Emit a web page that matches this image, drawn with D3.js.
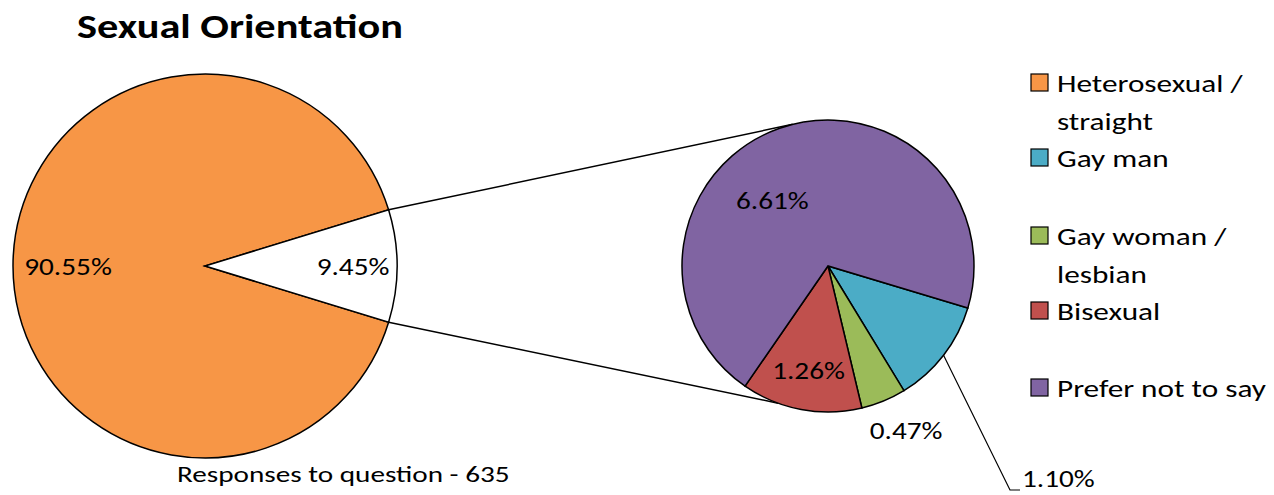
<!DOCTYPE html>
<html>
<head>
<meta charset="utf-8">
<script src="https://cdn.jsdelivr.net/npm/d3@7"></script>
<style>
  body { margin: 0; background: #fff; }
  svg text { font-family: Carlito, Lato, sans-serif; fill: #000; }
</style>
</head>
<body>
<div id="chart"></div>
<script>
// main pie
let mainLabels = ['Heterosexual / straight', 'Other'];
let mainValues = [90.55, 9.45];
// second pie (split of "Other")
let subLabels = ['Gay man', 'Gay woman / lesbian', 'Bisexual', 'Prefer not to say'];
let subValues = [1.10, 0.47, 1.26, 6.61];
let legendLabels = [['Heterosexual /', 'straight'], ['Gay man'], ['Gay woman /', 'lesbian'], ['Bisexual'], ['Prefer not to say']];
let colors = ['#F79646', '#4BACC6', '#9BBB59', '#C0504D', '#8064A2'];

let width = 1274, height = 495;
let deg = Math.PI / 180;

let svg = d3.select('#chart').append('svg').attr('width', width).attr('height', height);

// text is drawn a bit wider than the font to look like the original
function addText(parent, x, y, str, size, sx, anchor, bold) {
    return parent.append('text')
        .attr('transform', 'translate(' + [x, y] + ') scale(' + sx + ',1)')
        .attr('text-anchor', anchor || 'start')
        .style('font-size', size + 'px')
        .style('font-weight', bold ? 'bold' : 'normal')
        .text(str);
}

// title
addText(svg, 77, 38, 'Sexual Orientation', 35, 1.21, 'start', true);

// main pie, small slice centred on the right
let mainC = [205, 266], mainR = 192;
let otherHalf = mainValues[1] / d3.sum(mainValues) * Math.PI;
let mainPie = d3.pie().sort(null)
    .startAngle(Math.PI / 2 + otherHalf)
    .endAngle(Math.PI / 2 + otherHalf + 2 * Math.PI);
let mainArc = d3.arc().innerRadius(0).outerRadius(mainR);
let mainArcs = mainPie(mainValues);

let gMain = svg.append('g').attr('transform', 'translate(' + mainC + ')');
gMain.selectAll('path')
    .data(mainArcs)
    .enter()
    .append('path')
    .attr('d', mainArc)
    .attr('fill', function (d, i) { return i === 0 ? colors[0] : '#fff'; })
    .attr('stroke', '#000')
    .attr('stroke-width', 1.5);

function polar(c, r, a) {
    return [c[0] + r * Math.sin(a), c[1] - r * Math.cos(a)];
}

let mainLabelR = [137, 148];
mainArcs.forEach(function (d, i) {
    let p = polar([0, 0], mainLabelR[i], (d.startAngle + d.endAngle) / 2);
    addText(gMain, p[0], p[1] + 9, d.value.toFixed(2) + '%', 25, 1.17, 'middle');
});

// second pie
let subC = [828, 266], subR = 146;
let subStart = 106.7 * deg;
let subPie = d3.pie().sort(null).startAngle(subStart).endAngle(subStart + 2 * Math.PI);
let subArc = d3.arc().innerRadius(0).outerRadius(subR);
let subArcs = subPie(subValues);

// connector lines
let line = d3.line();
let connA = [mainArcs[1].startAngle, mainArcs[1].endAngle - 2 * Math.PI];
let connB = [-14 * deg, 200 * deg];
connA.forEach(function (a, i) {
    svg.append('path')
        .attr('d', line([polar(mainC, mainR, a), polar(subC, subR, connB[i])]))
        .attr('stroke', '#000').attr('stroke-width', 1.5).attr('fill', 'none');
});

let gSub = svg.append('g').attr('transform', 'translate(' + subC + ')');
gSub.selectAll('path')
    .data(subArcs)
    .enter()
    .append('path')
    .attr('d', subArc)
    .attr('fill', function (d, i) { return colors[i + 1]; })
    .attr('stroke', '#000')
    .attr('stroke-width', 1.5);

// label placement: [radius, angle nudge in degrees]
let subLabelPos = [null, [182, -3], [106, 0], [86, -21]];
subArcs.forEach(function (d, i) {
    if (!subLabelPos[i]) return;
    let a = (d.startAngle + d.endAngle) / 2 + subLabelPos[i][1] * deg;
    let p = polar([0, 0], subLabelPos[i][0], a);
    addText(gSub, p[0], p[1] + 9, d.value.toFixed(2) + '%', 25, 1.17, 'middle');
});

// leader line for the gay man slice
let gm = subArcs[0];
let gmA = (gm.startAngle + gm.endAngle) / 2;
let p0 = polar(subC, subR, gmA);
let p1 = [1010, 490];
svg.append('path')
    .attr('d', line([p0, p1, [p1[0] + 10, p1[1]]]))
    .attr('stroke', '#000').attr('stroke-width', 1.2).attr('fill', 'none');
addText(svg, p1[0] + 12, 487, gm.value.toFixed(2) + '%', 25, 1.17, 'start');

// footer
addText(svg, 177, 482, 'Responses to question - 635', 23, 1.27, 'start');

// legend
let legendY = [92, 167, 245, 320, 397];
let legend = svg.append('g');
legendLabels.forEach(function (lines, i) {
    legend.append('rect')
        .attr('x', 1031).attr('y', legendY[i] - 18)
        .attr('width', 17).attr('height', 17)
        .attr('fill', colors[i]).attr('stroke', '#000').attr('stroke-width', 1.2);
    lines.forEach(function (t, j) {
        addText(legend, 1057, legendY[i] + j * 38, t, 25, 1.25, 'start');
    });
});
</script>
</body>
</html>
